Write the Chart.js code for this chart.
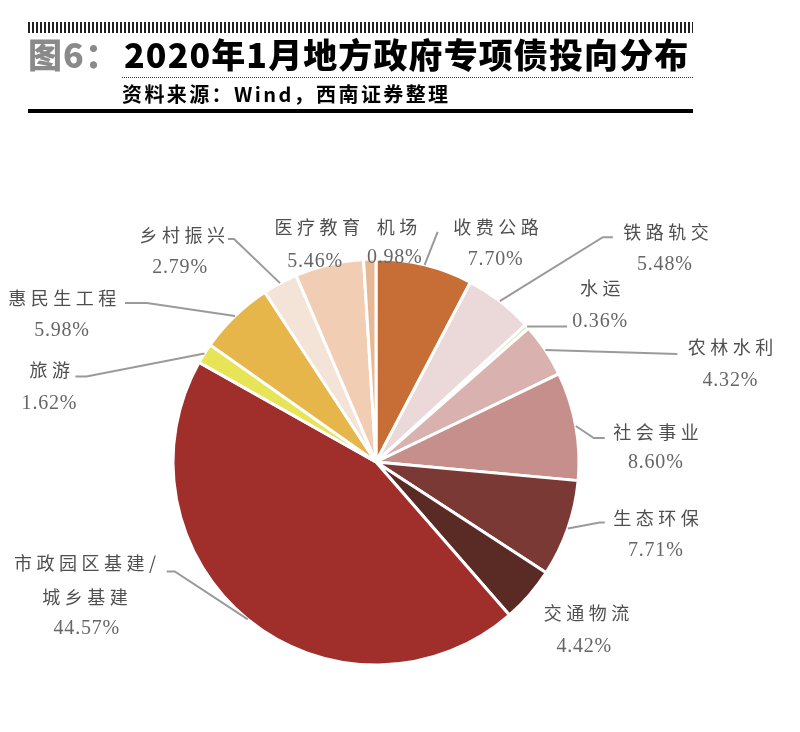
<!DOCTYPE html>
<html>
<head>
<meta charset="utf-8">
<script src="https://cdn.jsdelivr.net/npm/chart.js@4/dist/chart.umd.min.js"></script>
<style>
    html, body {
        margin: 0;
        padding: 0;
        background: #fff;
    }

    #page {
        position: relative;
        width: 800px;
        height: 732px;
        overflow: hidden;
    }

    #chart {
        position: absolute;
        left: 0;
        top: 0;
    }

    .stripe {
        position: absolute;
        left: 28px;
        top: 22px;
        width: 665px;
        height: 11px;
        background: repeating-linear-gradient(90deg, #222 0 2px, #fff 2px 4px);
    }

    .title {
        position: absolute;
        left: 28px;
        top: 33px;
        font-family: "Noto Sans CJK SC", sans-serif;
        font-weight: 900;
        font-size: 34px;
        letter-spacing: 1.1px;
        line-height: 42px;
        white-space: nowrap;
        color: #000;
    }

    .title .fig {
        color: #8a8a8a;
        margin-right: 4px;
    }

    .dots {
        position: absolute;
        left: 122px;
        top: 77px;
        width: 571px;
        height: 0;
        border-top: 1px dotted #333;
    }

    .source {
        position: absolute;
        left: 122px;
        top: 80px;
        font-family: "Noto Sans CJK SC", sans-serif;
        font-weight: 700;
        font-size: 20px;
        letter-spacing: 2.4px;
        line-height: 28px;
        white-space: nowrap;
        color: #000;
    }

    .rule {
        position: absolute;
        left: 28px;
        top: 109px;
        width: 665px;
        height: 4px;
        background: #000;
    }
</style>
</head>
<body>
<div id="page">
    <canvas id="chart" width="800" height="732"></canvas>
    <div class="stripe"></div>
    <div class="title"><span class="fig">图6：</span>2020年1月地方政府专项债投向分布</div>
    <div class="dots"></div>
    <div class="source">资料来源：Wind，西南证券整理</div>
    <div class="rule"></div>
</div>

<script>
// clockwise from 12 o'clock
const categories = [
    '收费公路', '铁路轨交', '水运', '农林水利', '社会事业', '生态环保', '交通物流',
    '市政园区基建/\n城乡基建', '旅游', '惠民生工程', '乡村振兴', '医疗教育', '机场'
];
const shares = [7.70, 5.48, 0.36, 4.32, 8.60, 7.71, 4.42, 44.57, 1.62, 5.98, 2.79, 5.46, 0.98];
const sliceColors = [
    '#c66e36', '#ebd8d8', '#dfe6cc', '#d9b1af', '#c68f8c', '#7b3936', '#5a2a25',
    '#a02e2b', '#e8e458', '#e6b64a', '#f4e4d8', '#f0cdb3', '#e8b894'
];

// label placement, offsets from the point where the slice's middle meets the rim
const labelLayout = [
    {leader: [[13, -33]], name: [71, -38], pct: [71, -5]},
    {leader: [[103, -64], [113, -64]], name: [166, -69], pct: [165, -36]},
    {leader: [[40, 0]], name: [73, -38], pct: [73, -5]},
    {leader: [[132, 4]], name: [185, -3], pct: [185, 31]},
    {leader: [[18, 12], [29, 12]], name: [80, 6], pct: [80, 37]},
    {leader: [[32, -6], [37, -6]], name: [88, -10], pct: [88, 22]},
    {leader: [], name: [57, 18], pct: [55, 52]},
    {leader: [[-73, -48], [-81, -48]], name: [-163, -56], pct: [-161, 9]},
    {leader: [[-118, 23], [-129, 23]], name: [-155, 17], pct: [-155, 50]},
    {leader: [[-88, -13], [-110, -13]], name: [-173, -18], pct: [-173, 15]},
    {leader: [[-46, -44], [-52, -44]], name: [-98, -48], pct: [-100, -15]},
    {leader: [], name: [-12, -37], pct: [-14, -3]},
    {leader: [], name: [27, -32], pct: [25, -1]}
];

function drawCentered(ctx, text, x, y) {
    const w = ctx.measureText(text).width;
    ctx.fillText(text, x - w / 2, y);
}

const sliceLabels = {
    id: 'sliceLabels',
    afterDatasetsDraw(chart) {
        const ctx = chart.ctx;
        const arcs = chart.getDatasetMeta(0).data;
        ctx.save();
        arcs.forEach((arc, i) => {
            const {x, y, startAngle, endAngle, outerRadius} =
                arc.getProps(['x', 'y', 'startAngle', 'endAngle', 'outerRadius'], true);
            const mid = (startAngle + endAngle) / 2;
            const ax = x + Math.cos(mid) * outerRadius;
            const ay = y + Math.sin(mid) * outerRadius;
            const lay = labelLayout[i];

            if (lay.leader.length) {
                ctx.strokeStyle = '#9a9a9a';
                ctx.lineWidth = 2;
                ctx.beginPath();
                ctx.moveTo(ax, ay);
                lay.leader.forEach(([dx, dy]) => ctx.lineTo(ax + dx, ay + dy));
                ctx.stroke();
            }

            ctx.textBaseline = 'middle';
            ctx.fillStyle = '#4f4f4f';
            ctx.font = '18px "Noto Sans CJK SC", sans-serif';
            ctx.letterSpacing = '4.5px';
            chart.data.labels[i].split('\n').forEach((line, k) => {
                drawCentered(ctx, line, ax + lay.name[0] + 2.5, ay + lay.name[1] + k * 34);
            });

            ctx.fillStyle = '#666';
            ctx.font = '20px "Liberation Serif", serif';
            ctx.letterSpacing = '0.8px';
            drawCentered(ctx, shares[i].toFixed(2) + '%', ax + lay.pct[0], ay + lay.pct[1]);
        });
        ctx.restore();
    }
};

new Chart(document.getElementById('chart'), {
    type: 'pie',
    data: {
        labels: categories,
        datasets: [{
            data: shares,
            backgroundColor: sliceColors,
            borderColor: '#fff',
            borderWidth: 3
        }]
    },
    options: {
        responsive: false,
        animation: false,
        radius: 203,
        layout: {
            padding: {left: 170, right: 218, top: 256, bottom: 64}
        },
        plugins: {
            legend: {display: false},
            tooltip: {enabled: false}
        }
    },
    plugins: [sliceLabels]
});
</script>
</body>
</html>
